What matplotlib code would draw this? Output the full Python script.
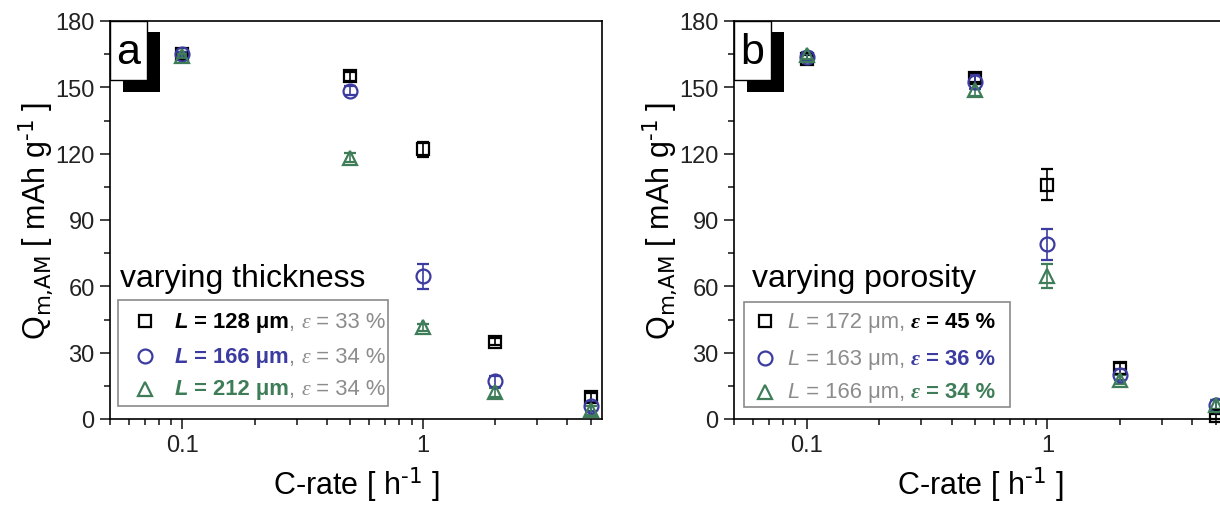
import matplotlib
matplotlib.use("Agg")
import matplotlib.pyplot as plt
from matplotlib.patches import Rectangle
from matplotlib.ticker import MultipleLocator, FixedLocator, NullFormatter, FixedFormatter
from matplotlib.offsetbox import TextArea, HPacker, AnchoredOffsetbox

plt.rcParams['font.family'] = ['Liberation Sans', 'DejaVu Sans']
plt.rcParams['mathtext.default'] = 'regular'

# ---- data -------------------------------------------------------------
c_rate = [0.1, 0.5, 1.0, 2.0, 5.0]

# (a) varying thickness
thick_128 = [165.0, 155.0, 122.0, 35.0, 9.8]
thick_128_err = [1.0, 2.0, 3.5, 1.5, 2.0]
thick_166 = [165.0, 148.5, 64.5, 17.0, 5.8]
thick_166_err = [1.0, 2.0, 5.5, 2.5, 2.0]
thick_212 = [164.2, 118.2, 41.5, 12.0, 4.0]
thick_212_err = [1.0, 2.0, 1.5, 2.0, 2.0]

# (b) varying porosity
poro_45 = [163.0, 154.2, 106.0, 23.0, 1.2]
poro_45_err = [1.5, 2.0, 7.0, 2.5, 1.0]
poro_36 = [163.8, 152.4, 79.0, 20.0, 6.5]
poro_36_err = [1.5, 3.0, 7.0, 2.5, 2.0]
poro_34 = [164.4, 148.8, 64.8, 17.8, 6.5]
poro_34_err = [1.5, 2.5, 5.5, 2.0, 2.0]

thickness_labels = ["128", "166", "212"]
thickness_eps = ["33", "34", "34"]
porosity_L = ["172", "163", "166"]
porosity_eps = ["45", "36", "34"]

BLACK = "#000000"
BLUE = "#3b3ba0"
GREEN = "#3f7d58"
GRAY = "#8c8c8c"
colors = [BLACK, BLUE, GREEN]
markers = ["s", "o", "^"]

W, H = 1220, 506
fig = plt.figure(figsize=(W / 100, H / 100), dpi=100)

ax_h = 398 / H
ax_y0 = 1 - 420 / H
ax_a = fig.add_axes([110 / W, ax_y0, 492 / W, ax_h])
ax_b = fig.add_axes([734 / W, ax_y0, 493 / W, ax_h])

FS_TICK = 17
FS_LABEL = 22
FS_LEG = 15.8
FS_TITLE = 23


def style_axes(ax):
    ax.set_xscale("log")
    ax.set_xlim(0.05, 5.57)
    ax.set_ylim(0, 180)
    ax.yaxis.set_major_locator(MultipleLocator(30))
    ax.yaxis.set_minor_locator(MultipleLocator(15))
    ax.xaxis.set_major_locator(FixedLocator([0.1, 1]))
    ax.xaxis.set_major_formatter(FixedFormatter(["0.1", "1"]))
    ax.xaxis.set_minor_locator(FixedLocator(
        [0.05, 0.06, 0.07, 0.08, 0.09, 0.2, 0.3, 0.4, 0.5, 0.6, 0.7, 0.8, 0.9,
         2, 3, 4, 5]))
    ax.xaxis.set_minor_formatter(NullFormatter())
    for s in ax.spines.values():
        s.set_linewidth(1.2)
    ax.tick_params(which="both", direction="out", top=False, right=False,
                   width=1.2, labelsize=FS_TICK, colors="#222222")
    ax.tick_params(which="major", length=7, pad=4)
    ax.tick_params(which="minor", length=4)
    ax.set_xlabel(r"C-rate [ h$^{\text{-1}}$ ]", fontsize=FS_LABEL, labelpad=6)
    ax.set_ylabel(r"Q$_{\text{m,AM}}$ [ mAh g$^{\text{-1}}$ ]", fontsize=FS_LABEL)
    ax.yaxis.set_label_coords(-0.112, 0.5)


def draw_series(ax, ys, errs):
    for y, e, c, m in zip(ys, errs, colors, markers):
        ms = 9 if m == "s" else 10
        ax.errorbar(c_rate, y, yerr=e, fmt=m, ms=ms, mfc="none", mec=c,
                    mew=1.6, ecolor=c, elinewidth=1.2, capsize=4, capthick=1.2,
                    clip_on=False, zorder=3)


def panel_tag(ax, letter):
    tr = ax.transAxes
    ax.add_patch(Rectangle((0.0264, 0.8216), 0.0752, 0.1504, transform=tr,
                           facecolor="black", edgecolor="black", lw=0,
                           clip_on=False, zorder=5))
    ax.add_patch(Rectangle((0.0, 0.852), 0.075, 0.148, transform=tr,
                           facecolor="white", edgecolor="black", lw=1.0,
                           clip_on=False, zorder=6))
    ax.text(0.0375, 0.922, letter, transform=tr, ha="center", va="center",
            fontsize=31, zorder=7)


def legend_row(ax, x, y, pieces):
    boxes = []
    for txt, props in pieces:
        boxes.append(TextArea(txt, textprops=props))
    pack = HPacker(children=boxes, align="baseline", pad=0, sep=0)
    anch = AnchoredOffsetbox(loc="center left", child=pack, pad=0, borderpad=0,
                             frameon=False, bbox_to_anchor=(x, y),
                             bbox_transform=ax.transAxes)
    anch.set_zorder(8)
    ax.add_artist(anch)


def legend_frame(ax, x0, y0, x1, y1):
    ax.add_patch(Rectangle((x0, y0), x1 - x0, y1 - y0, transform=ax.transAxes,
                           facecolor="white", edgecolor="#8a8a8a", lw=1.2,
                           zorder=4, clip_on=False))


def sans(color, weight="normal", style="normal"):
    return dict(color=color, fontsize=FS_LEG, fontweight=weight, fontstyle=style,
                family=["Liberation Sans", "DejaVu Sans"])


def serif(color, weight="normal"):
    return dict(color=color, fontsize=FS_LEG, fontweight=weight, fontstyle="italic",
                family=["Liberation Serif", "DejaVu Serif"])


# ---- panel (a) --------------------------------------------------------
style_axes(ax_a)
draw_series(ax_a, [thick_128, thick_166, thick_212],
            [thick_128_err, thick_166_err, thick_212_err])
panel_tag(ax_a, "a")
ax_a.text(0.0203, 0.334, "varying thickness", transform=ax_a.transAxes,
          fontsize=FS_TITLE, va="baseline", ha="left", zorder=8)
legend_frame(ax_a, 0.0163, 0.0327, 0.565, 0.299)
rows_y = [0.246, 0.158, 0.0754]
for i, (lab, eps) in enumerate(zip(thickness_labels, thickness_eps)):
    ax_a.plot([0.0711], [rows_y[i]], marker=markers[i], ms=9 if i == 0 else 10,
              mfc="none", mec=colors[i], mew=1.6, transform=ax_a.transAxes,
              clip_on=False, zorder=8, ls="none")
    legend_row(ax_a, 0.132, rows_y[i], [
        ("L", sans(colors[i], "bold", "italic")),
        (f" = {lab} \u03bcm", sans(colors[i], "bold")),
        (", ", sans(GRAY)),
        ("\u03b5", serif(GRAY)),
        (f" = {eps} %", sans(GRAY)),
    ])

# ---- panel (b) --------------------------------------------------------
style_axes(ax_b)
draw_series(ax_b, [poro_45, poro_36, poro_34],
            [poro_45_err, poro_36_err, poro_34_err])
panel_tag(ax_b, "b")
ax_b.text(0.0365, 0.334, "varying porosity", transform=ax_b.transAxes,
          fontsize=FS_TITLE, va="baseline", ha="left", zorder=8)
legend_frame(ax_b, 0.0203, 0.030, 0.560, 0.294)
rows_y = [0.246, 0.153, 0.068]
for i, (lab, eps) in enumerate(zip(porosity_L, porosity_eps)):
    ax_b.plot([0.0629], [rows_y[i]], marker=markers[i], ms=9 if i == 0 else 10,
              mfc="none", mec=colors[i], mew=1.6, transform=ax_b.transAxes,
              clip_on=False, zorder=8, ls="none")
    legend_row(ax_b, 0.1085, rows_y[i], [
        ("L", sans(GRAY, "normal", "italic")),
        (f" = {lab} \u03bcm, ", sans(GRAY)),
        ("\u03b5", serif(colors[i], "bold")),
        (f" = {eps} %", sans(colors[i], "bold")),
    ])

fig.savefig("out.png", dpi=100)
